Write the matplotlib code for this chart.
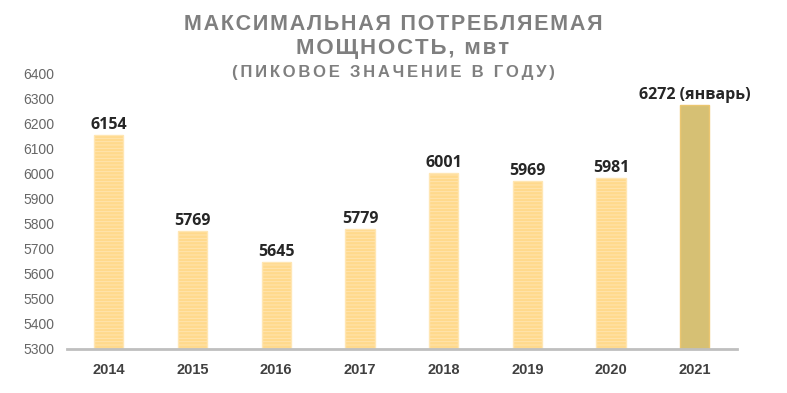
import matplotlib
matplotlib.use('Agg')
import matplotlib.pyplot as plt

years = ['2014', '2015', '2016', '2017', '2018', '2019', '2020', '2021']
values = [6154, 5769, 5645, 5779, 6001, 5969, 5981, 6272]
labels = ['6154', '5769', '5645', '5779', '6001', '5969', '5981', '6272 (январь)']

plt.rcParams['font.family'] = ['Liberation Sans', 'DejaVu Sans']
plt.rcParams['hatch.linewidth'] = 0.6

fig = plt.figure(figsize=(7.87, 3.93), dpi=100)
ax = fig.add_axes([0.085, 0.112, 0.851, 0.702])

x = range(len(years))
for i, v in enumerate(values):
    if i == len(values) - 1:
        fc, ec = '#D6C074', '#EBC670'
    else:
        fc, ec = '#FFD98C', '#FFE6B3'
    ax.bar(i, v - 5300, bottom=5300, width=0.35, color=fc, edgecolor=ec,
           linewidth=1.0, hatch='-----' if i < len(values) - 1 else None)
    ax.text(i, v + 8, labels[i], ha='center', va='bottom', fontsize=11.5,
            fontweight='bold', color='#262626', family=['Open Sans', 'DejaVu Sans'])

ax.set_ylim(5300, 6400)
ax.set_xlim(-0.5, len(years) - 0.5)
ax.set_yticks(range(5300, 6401, 100))
ax.set_xticks(list(x))
ax.set_xticklabels(years, fontweight='bold', fontsize=10.5, color='#404040')
ax.tick_params(axis='y', length=0, labelsize=10, labelcolor='#666666', pad=9)
ax.tick_params(axis='x', length=0, pad=10)
for s in ['top', 'right', 'left']:
    ax.spines[s].set_visible(False)
ax.spines['bottom'].set_color('#BFBFBF')
ax.spines['bottom'].set_linewidth(2)

def spaced(s, n=1):
    return ('\u200a' * n).join(s)

title_color = '#7F7F7F'
fig.text(0.5, 0.938, spaced('МАКСИМАЛЬНАЯ ПОТРЕБЛЯЕМАЯ'), ha='center', va='center',
         fontsize=15.5, fontweight='bold', color=title_color)
fig.text(0.511, 0.876, spaced('МОЩНОСТЬ, мвт'), ha='center', va='center',
         fontsize=16, fontweight='bold', color=title_color)
fig.text(0.5, 0.815, spaced('(ПИКОВОЕ ЗНАЧЕНИЕ В ГОДУ)', 2), ha='center', va='center',
         fontsize=12, fontweight='bold', color=title_color)

fig.savefig('out.png', dpi=100)
